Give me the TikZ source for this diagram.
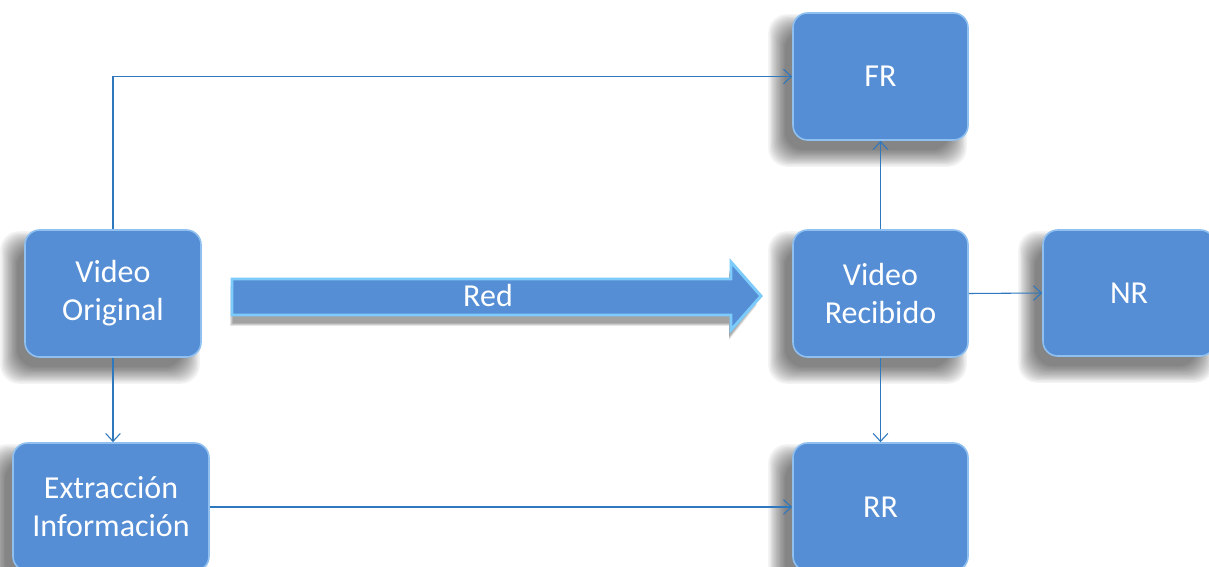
\documentclass[tikz,border=0pt]{standalone}
\usepackage{fontspec}
\setmainfont{Carlito}
\usetikzlibrary{arrows.meta,calc}
\definecolor{boxblue}{HTML}{558ED5}
\definecolor{bevel}{HTML}{8FC0F0}
\definecolor{linecol}{HTML}{2F78BE}
\definecolor{arrowedge}{HTML}{7DCBFA}
\pgfdeclarelayer{bg}
\pgfdeclarelayer{shadowlayer}
\pgfsetlayers{bg,shadowlayer,main}
\newcommand{\softshadow}[1]{%
  \foreach \i in {0,...,13} {
    \fill[black, opacity=0.045, rounded corners=14pt]
      ($(#1.north west)+(-24+\i*1.3,2+\i*1.3)$) rectangle ($(#1.south east)+(-2-\i*1.3,26-\i*1.3)$);
  }}
\begin{document}
\begin{tikzpicture}[x=0.75pt,y=-0.75pt,
  lbl/.style={text=white, font=\fontsize{24pt}{28.5pt}\selectfont},
  box/.style={lbl, draw=bevel, line width=1.2pt, fill=boxblue, rounded corners=11pt,
    align=center, inner sep=0pt},
  conn/.style={draw=linecol, line width=0.8pt, -{Straight Barb[length=6pt,width=11pt,line width=0.8pt]}}]
\useasboundingbox (0,0) rectangle (1209,567);
\clip (0,0) rectangle (1209,567);
\begin{pgfonlayer}{bg}
\fill[white] (0,0) rectangle (1209,567);
\end{pgfonlayer}
% boxes
\node[box, minimum width=131.25pt, minimum height=95.25pt] (FR) at (880.5,76.5) {FR};
\node[box, minimum width=132pt, minimum height=95.25pt] (VO) at (113,293.5) {Video\\Original};
\node[box, minimum width=131.25pt, minimum height=95.25pt] (VR) at (880.5,293.5) {Video\\Recibido};
\node[box, minimum width=129pt, minimum height=94.5pt] (NR) at (1129,293) {NR};
\node[box, minimum width=147pt, minimum height=96pt] (EI) at (111,507) {Extracción\\Información};
\node[box, minimum width=131.25pt, minimum height=96pt] (RR) at (880.5,507) {RR};
\begin{pgfonlayer}{shadowlayer}
\softshadow{FR}\softshadow{VO}\softshadow{VR}\softshadow{NR}\softshadow{EI}\softshadow{RR}
\foreach \i in {0,...,5} {
  \fill[black, opacity=0.07, line join=round]
    (230+\i*0.6,286+\i*0.6) -- (729,286+\i*0.6) -- (729,270+\i*0.8) -- (757-\i*0.8,305) -- (729,340-\i*0.8) -- (729,326-\i*0.6) -- (230+\i*0.6,326-\i*0.6) -- cycle;
}
\end{pgfonlayer}
% big arrow
\filldraw[fill=boxblue, draw=arrowedge, line width=2.2pt, line join=miter]
  (232,279) -- (731,279) -- (731,262) -- (761,296) -- (731,330) -- (731,315) -- (232,315) -- cycle;
\node[lbl] (red) at (488,295) {Red};
% connectors
\draw[conn] (VO.north) |- (FR.west);
\draw[conn] (VO.south) -- (EI.north -| VO.south);
\draw[conn] (EI.east) -- (RR.west);
\draw[conn] (VR.north) -- (FR.south);
\draw[conn] (VR.east) -- (NR.west);
\draw[conn] (VR.south) -- (RR.north);
\end{tikzpicture}
\end{document}
